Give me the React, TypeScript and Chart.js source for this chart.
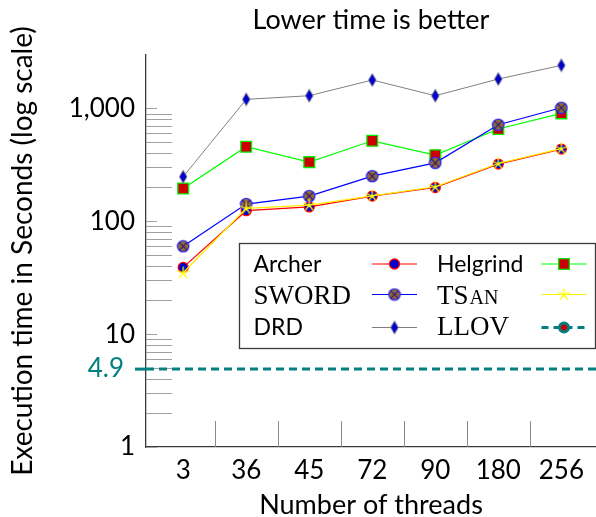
import React, { useEffect, useRef } from 'react';
import { Chart, registerables } from 'chart.js';

Chart.register(...registerables);

// ---- data ----
const THREADS = ['3', '36', '45', '72', '90', '180', '256'];
const ARCHER = [39, 124, 134, 167, 199, 321, 436];
const HELGRIND = [195, 457, 334, 516, 385, 656, 903];
const SWORD = [60, 142, 167, 251, 329, 716, 1012];
const TSAN = [35, 130, 139, 168, 202, 325, 440];
const DRD = [248, 1202, 1294, 1783, 1294, 1820, 2405];
const LLOV_TIME = 4.9;
const Y_TICKS = [1, 10, 100, 1000];
const Y_MINOR_DECADES = [1, 10, 100];
const Y_MIN = 1;
const Y_MAX = 2970;
const X_MIN = -0.59;
const X_MAX = 6.55;

const TITLE = 'Lower time is better';
const X_TITLE = 'Number of threads';
const Y_TITLE = 'Execution time in Seconds (log scale)';

const SANS = 'Lato';
const SERIF = 'Liberation Serif';
const TEAL = '#008080';
const AXIS_COLOR = '#3a3a3a';
const TICK_GRAY = '#a0a0a0';

function makeCanvas(w: number, h: number) {
  const c = document.createElement('canvas');
  c.width = w;
  c.height = h;
  return c;
}

function makeOtimes() {
  const c = makeCanvas(14, 14);
  const g = c.getContext('2d')!;
  const cx = 7, cy = 7, r = 5.7;
  g.beginPath();
  g.arc(cx, cy, r, 0, Math.PI * 2);
  g.fillStyle = '#996633';
  g.fill();
  g.lineWidth = 1.3;
  g.strokeStyle = '#2a2aff';
  g.stroke();
  const d = r * 0.72;
  g.beginPath();
  g.moveTo(cx - d, cy - d);
  g.lineTo(cx + d, cy + d);
  g.moveTo(cx + d, cy - d);
  g.lineTo(cx - d, cy + d);
  g.lineWidth = 1.1;
  g.strokeStyle = '#1a1a80';
  g.stroke();
  return c;
}

function makeStar() {
  const c = makeCanvas(14, 14);
  const g = c.getContext('2d')!;
  const cx = 7, cy = 7, r = 5.8;
  g.beginPath();
  for (let k = 0; k < 5; k++) {
    const a = -Math.PI / 2 + (k * 2 * Math.PI) / 5;
    g.moveTo(cx, cy);
    g.lineTo(cx + r * Math.cos(a), cy + r * Math.sin(a));
  }
  g.lineWidth = 1.3;
  g.strokeStyle = '#ffff00';
  g.lineCap = 'round';
  g.stroke();
  return c;
}

function makeDiamond() {
  const c = makeCanvas(10, 16);
  const g = c.getContext('2d')!;
  g.beginPath();
  g.moveTo(5, 1.5);
  g.lineTo(8.8, 8);
  g.lineTo(5, 14.5);
  g.lineTo(1.2, 8);
  g.closePath();
  g.fillStyle = '#0000cc';
  g.fill();
  g.lineWidth = 0.8;
  g.strokeStyle = '#808080';
  g.stroke();
  return c;
}

function drawMarker(ctx: CanvasRenderingContext2D, style: any, x: number, y: number, r: number, fill: string, stroke: string, bw: number) {
  ctx.save();
  ctx.setLineDash([]);
  if (typeof style !== 'string') {
    ctx.drawImage(style, x - style.width / 2, y - style.height / 2);
    ctx.restore();
    return;
  }
  ctx.beginPath();
  if (style === 'rect') {
    const s = r * Math.SQRT1_2;
    ctx.rect(x - s, y - s, 2 * s, 2 * s);
  } else {
    ctx.arc(x, y, r, 0, Math.PI * 2);
  }
  ctx.fillStyle = fill;
  ctx.fill();
  if (bw > 0) {
    ctx.lineWidth = bw;
    ctx.strokeStyle = stroke;
    ctx.stroke();
  }
  ctx.restore();
}

export default function App() {
  const ref = useRef<HTMLCanvasElement | null>(null);

  useEffect(() => {
    if (!ref.current) return;
    const otimes = makeOtimes();
    const star = makeStar();
    const diamond = makeDiamond();

    const toXY = (arr: number[]) => arr.map((v, i) => ({ x: i, y: v }));

    const datasets: any[] = [
      {
        label: 'Archer', data: toXY(ARCHER), borderColor: '#ff0000', borderWidth: 1.2,
        pointStyle: 'circle', pointRadius: 5, pointBackgroundColor: '#0000cc',
        pointBorderColor: '#ff0000', pointBorderWidth: 1.3, order: 5, legendFont: 'sans',
      },
      {
        label: 'Helgrind', data: toXY(HELGRIND), borderColor: '#00ff00', borderWidth: 1.2,
        pointStyle: 'rect', pointRadius: 7.6, pointBackgroundColor: '#cc0000',
        pointBorderColor: '#00ee00', pointBorderWidth: 1.3, order: 4, legendFont: 'sans',
      },
      {
        label: 'SWORD', data: toXY(SWORD), borderColor: '#0000ff', borderWidth: 1.2,
        pointStyle: otimes, pointRadius: 6, pointBackgroundColor: '#996633',
        pointBorderColor: '#0000ff', pointBorderWidth: 1.3, order: 3, legendFont: 'serif',
      },
      {
        label: 'TSan', data: toXY(TSAN), borderColor: '#ffee00', borderWidth: 1.2,
        pointStyle: star, pointRadius: 6, pointBackgroundColor: '#ffff00',
        pointBorderColor: '#ffff00', pointBorderWidth: 1, order: 2, legendFont: 'smallcaps',
      },
      {
        label: 'DRD', data: toXY(DRD), borderColor: '#808080', borderWidth: 1,
        pointStyle: diamond, pointRadius: 6, pointBackgroundColor: '#0000cc',
        pointBorderColor: '#808080', pointBorderWidth: 1, order: 1, legendFont: 'sans',
      },
    ];
    datasets.forEach((d) => {
      d.fill = false;
      d.tension = 0;
      d.pointHoverRadius = d.pointRadius;
    });

    const llovEntry = {
      label: 'LLOV', legendFont: 'serif', borderColor: TEAL, borderWidth: 3, dash: [7, 5],
      pointStyle: 'circle', pointRadius: 4.5, pointBackgroundColor: '#cc0000',
      pointBorderColor: TEAL, pointBorderWidth: 3,
    };

    const decor = {
      id: 'decor',
      beforeDatasetsDraw(chart: any) {
        const { ctx, chartArea: ca, scales } = chart;
        const ys = scales.y;
        const xs = scales.x;
        ctx.save();
        ctx.lineWidth = 1;
        ctx.strokeStyle = TICK_GRAY;
        // y minor ticks
        Y_MINOR_DECADES.forEach((dec) => {
          for (let m = 2; m <= 9; m++) {
            const y = Math.round(ys.getPixelForValue(m * dec)) + 0.5;
            ctx.beginPath();
            ctx.moveTo(ca.left, y);
            ctx.lineTo(ca.left + 26, y);
            ctx.stroke();
          }
        });
        // y major ticks (short)
        Y_TICKS.forEach((v) => {
          const y = Math.round(ys.getPixelForValue(v)) + 0.5;
          ctx.beginPath();
          ctx.moveTo(ca.left, y);
          ctx.lineTo(ca.left + 11, y);
          ctx.stroke();
        });
        // x separators
        ctx.strokeStyle = '#8a8a8a';
        for (let i = 0; i < THREADS.length - 1; i++) {
          const x = Math.round(xs.getPixelForValue(i + 0.5)) + 0.5;
          ctx.beginPath();
          ctx.moveTo(x, ca.bottom);
          ctx.lineTo(x, ca.bottom - 26);
          ctx.stroke();
        }
        // LLOV reference line
        const yl = ys.getPixelForValue(LLOV_TIME);
        ctx.strokeStyle = TEAL;
        ctx.lineWidth = 3;
        ctx.beginPath();
        ctx.moveTo(ca.left - 11, yl);
        ctx.lineTo(ca.left, yl);
        ctx.stroke();
        ctx.setLineDash([8, 5]);
        ctx.beginPath();
        ctx.moveTo(ca.left, yl);
        ctx.lineTo(ca.right, yl);
        ctx.stroke();
        ctx.setLineDash([]);
        ctx.fillStyle = TEAL;
        ctx.font = `26px ${SANS}`;
        ctx.textAlign = 'right';
        ctx.textBaseline = 'middle';
        ctx.fillText(String(LLOV_TIME), ca.left - 22, yl);
        ctx.restore();
      },
      afterDraw(chart: any) {
        const { ctx, chartArea: ca } = chart;
        ctx.save();
        // title
        ctx.fillStyle = '#000';
        ctx.font = `27px ${SANS}`;
        ctx.textAlign = 'center';
        ctx.textBaseline = 'alphabetic';
        ctx.fillText(TITLE, (ca.left + ca.right) / 2, 29);

        // legend
        const bx = ca.left + 93.5;
        const by = ca.top + 188.5;
        const bw = ca.right - 0.5 - bx;
        const bh = 105;
        ctx.fillStyle = '#fff';
        ctx.fillRect(bx, by, bw, bh);
        ctx.strokeStyle = AXIS_COLOR;
        ctx.lineWidth = 1.3;
        ctx.strokeRect(bx, by, bw, bh);

        const entries = [...datasets, llovEntry];
        const rowBase = [28.5, 60, 91];
        const rowMid = [20.5, 51, 84];
        entries.forEach((e: any, i: number) => {
          const col = i % 2;
          const row = Math.floor(i / 2);
          const tx = bx + (col === 0 ? 14 : 197.5);
          const ty = by + rowBase[row];
          ctx.fillStyle = '#000';
          ctx.textAlign = 'left';
          ctx.textBaseline = 'alphabetic';
          if (e.legendFont === 'sans') {
            ctx.font = `23px ${SANS}`;
            ctx.fillText(e.label, tx, ty);
          } else if (e.legendFont === 'serif') {
            ctx.font = `27px ${SERIF}`;
            ctx.fillText(e.label.toUpperCase(), tx, ty);
          } else {
            const first = e.label.slice(0, 2).toUpperCase();
            const rest = e.label.slice(2).toUpperCase();
            ctx.font = `27px ${SERIF}`;
            ctx.fillText(first, tx, ty);
            const w = ctx.measureText(first).width;
            ctx.font = `20px ${SERIF}`;
            ctx.fillText(rest, tx + w + 1, ty);
          }
          const sx0 = bx + (col === 0 ? 132.5 : 302);
          const sx1 = sx0 + 45;
          const sy = by + rowMid[row];
          ctx.strokeStyle = e.borderColor;
          ctx.lineWidth = e.borderWidth;
          ctx.setLineDash(e.dash || []);
          ctx.beginPath();
          ctx.moveTo(sx0, sy);
          ctx.lineTo(sx1, sy);
          ctx.stroke();
          ctx.setLineDash([]);
          drawMarker(ctx, e.pointStyle, (sx0 + sx1) / 2, sy, e.pointRadius, e.pointBackgroundColor, e.pointBorderColor, e.pointBorderWidth);
        });
        ctx.restore();
      },
    };

    const chart = new Chart(ref.current, {
      type: 'line',
      data: { datasets },
      plugins: [decor],
      options: {
        animation: false,
        responsive: false,
        devicePixelRatio: 1,
        layout: { autoPadding: false, padding: { top: 55, left: 0, right: 0, bottom: 0 } },
        plugins: { legend: { display: false }, title: { display: false }, tooltip: { enabled: false } },
        scales: {
          x: {
            type: 'linear',
            min: X_MIN,
            max: X_MAX,
            afterBuildTicks: (s: any) => {
              s.ticks = THREADS.map((_, i) => ({ value: i }));
            },
            afterFit: (s: any) => {
              s.height = 70;
              s.paddingLeft = 0;
              s.paddingRight = 0;
            },
            ticks: {
              callback: (v: any) => THREADS[v] ?? '',
              font: { family: SANS, size: 26 },
              color: '#000',
              padding: 8,
              maxRotation: 0,
              autoSkip: false,
            },
            grid: { display: false, drawTicks: false },
            border: { display: true, color: AXIS_COLOR, width: 1.3 },
            title: {
              display: true,
              text: X_TITLE,
              font: { family: SANS, size: 27, lineHeight: 0.8 },
              color: '#000',
              padding: { top: 0, bottom: 1 },
            },
          },
          y: {
            type: 'logarithmic',
            min: Y_MIN,
            max: Y_MAX,
            afterBuildTicks: (s: any) => {
              s.ticks = Y_TICKS.map((v) => ({ value: v }));
            },
            afterFit: (s: any) => {
              s.width = 146;
              s.paddingTop = 0;
              s.paddingBottom = 0;
            },
            ticks: {
              callback: (v: any) => Number(v).toLocaleString('en-US'),
              font: { family: SANS, size: 26 },
              color: '#000',
              padding: 11,
              autoSkip: false,
            },
            grid: { display: false, drawTicks: false },
            border: { display: true, color: AXIS_COLOR, width: 1.3 },
            title: {
              display: true,
              text: Y_TITLE,
              font: { family: SANS, size: 28, lineHeight: 1.2 },
              color: '#000',
              padding: { top: 6, bottom: 0 },
            },
          },
        },
      } as any,
    });
    return () => chart.destroy();
  }, []);

  return (
    <div style={{ position: 'fixed', left: 0, top: 0, width: 596, height: 517, background: '#fff' }}>
      <canvas ref={ref} width={596} height={517} style={{ display: 'block' }} />
    </div>
  );
}
